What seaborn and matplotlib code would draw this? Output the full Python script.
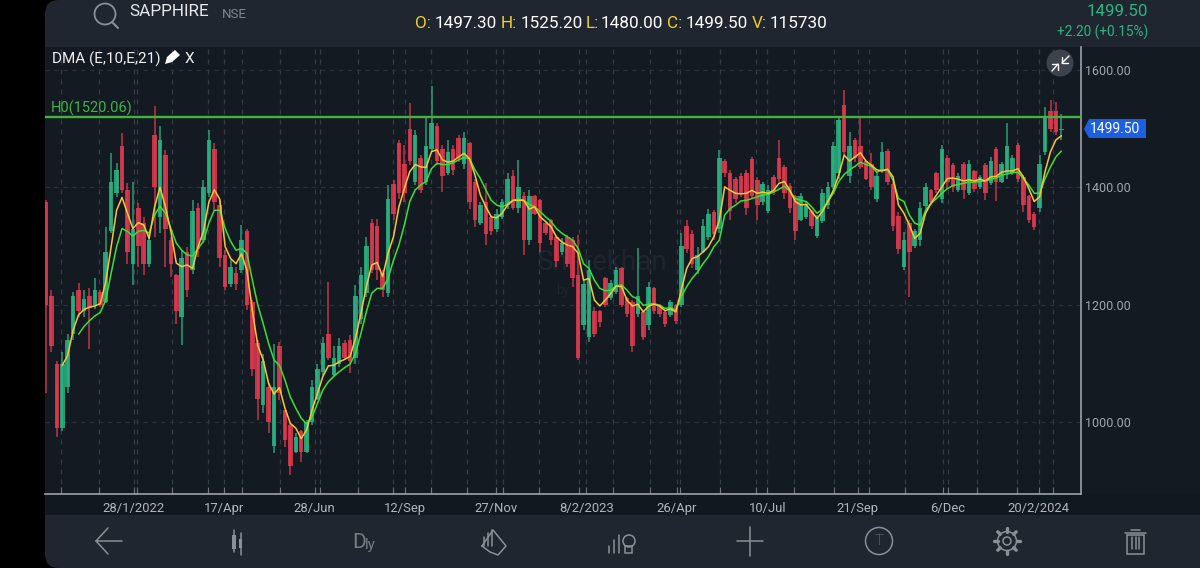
import numpy as np
import pandas as pd
import matplotlib.pyplot as plt
import seaborn as sns
from matplotlib.patches import FancyBboxPatch, Circle, Polygon, Rectangle

# Candles (one kept for every three sessions)
high = [1378,1225,1105,1120,1150,1222,1238,1225,1228,1245,
        1225,1333,1458,1441,1492,1407,1410,1373,1350,1320,
        1539,1505,1464,1315,1253,1293,1299,1379,1373,1413,
        1498,1475,1379,1293,1276,1265,1336,1330,1208,1140,
        1117,1066,1134,1137,1021,998,981,987,1004,1072,
        1100,1146,1239,1129,1143,1140,1148,1234,1265,1316,
        1347,1347,1259,1404,1413,1481,1472,1543,1498,1455,
        1518,1573,1509,1472,1481,1472,1489,1495,1478,1415,
        1375,1407,1353,1364,1381,1424,1430,1447,1392,1395,
        1387,1381,1342,1347,1319,1313,1319,1316,1319,1242,
        1276,1197,1191,1248,1242,1265,1265,1214,1208,1296,
        1191,1239,1231,1202,1191,1208,1202,1322,1344,1327,
        1299,1347,1364,1361,1464,1449,1429,1418,1424,1430,
        1452,1418,1410,1404,1421,1481,1438,1407,1387,1390,
        1375,1361,1353,1398,1410,1478,1520,1566,1495,1484,
        1518,1447,1458,1427,1478,1466,1410,1358,1324,1344,
        1330,1375,1407,1398,1427,1472,1455,1441,1424,1444,
        1447,1430,1421,1441,1452,1469,1444,1509,1455,1475,
        1421,1387,1358,1455,1537,1549,1545,1525.2]
low = [1050,1120,975,985,1050,1140,1180,1180,1125,1193,
       1197,1203,1322,1384,1390,1270,1233,1265,1250,1265,
       1315,1322,1265,1248,1168,1131,1214,1253,1282,1305,
       1384,1361,1265,1225,1231,1225,1254,1191,1078,1004,
       1015,981,947,1038,958,910,947,933,947,995,
       1038,1078,1106,1078,1094,1106,1083,1100,1168,1214,
       1254,1242,1214,1214,1344,1381,1375,1438,1404,1390,
       1404,1460,1438,1392,1421,1421,1444,1432,1364,1333,
       1336,1302,1319,1324,1347,1364,1361,1356,1285,1302,
       1353,1290,1319,1302,1265,1285,1265,1231,1106,1157,
       1137,1146,1163,1197,1208,1219,1197,1180,1120,1180,
       1140,1157,1185,1180,1163,1180,1168,1197,1288,1262,
       1253,1288,1310,1310,1322,1418,1344,1373,1384,1353,
       1381,1344,1370,1356,1387,1410,1381,1356,1310,1342,
       1347,1330,1313,1339,1364,1398,1415,1455,1407,1444,
       1432,1412,1395,1375,1424,1404,1325,1287,1259,1214,
       1296,1300,1364,1370,1390,1373,1398,1393,1393,1381,
       1387,1393,1398,1378,1404,1376,1407,1415,1421,1410,
       1358,1339,1327,1358,1455,1495,1489,1480]
open_ = [1375,1215,1100,990,1060,1150,1225,1190,1215,1200,
         1222,1205,1325,1390,1470,1395,1270,1365,1340,1270,
         1490,1350,1455,1310,1250,1180,1290,1260,1365,1310,
         1390,1465,1370,1285,1235,1255,1260,1325,1205,1135,
         1030,1060,960,1130,1020,995,950,985,950,1000,
         1040,1085,1150,1080,1100,1135,1140,1110,1175,1220,
         1340,1335,1255,1220,1405,1475,1440,1500,1410,1450,
         1410,1465,1505,1465,1425,1465,1485,1440,1475,1410,
         1340,1375,1350,1330,1350,1370,1420,1365,1385,1310,
         1385,1378,1340,1345,1315,1290,1315,1310,1250,1165,
         1145,1190,1190,1245,1212,1222,1262,1212,1205,1185,
         1188,1165,1228,1200,1188,1182,1200,1200,1335,1320,
         1260,1290,1315,1358,1330,1445,1425,1415,1420,1425,
         1448,1412,1375,1360,1418,1450,1435,1403,1385,1345,
         1350,1360,1318,1342,1370,1400,1425,1540,1420,1480,
         1470,1445,1440,1380,1430,1462,1405,1352,1265,1340,
         1300,1310,1368,1395,1425,1380,1450,1438,1396,1440,
         1390,1428,1400,1438,1408,1465,1410,1425,1425,1472,
         1418,1385,1355,1365,1460,1530,1530,1497.3]
close = [1200,1130,990,1100,1140,1215,1190,1210,1195,1225,
         1200,1290,1410,1430,1395,1290,1330,1300,1270,1310,
         1400,1480,1330,1270,1190,1280,1225,1360,1295,1400,
         1480,1375,1280,1230,1265,1235,1310,1200,1090,1040,
         1105,1000,1060,1050,970,925,975,950,1000,1060,
         1090,1135,1110,1110,1130,1110,1105,1215,1250,1300,
         1260,1260,1225,1380,1355,1390,1390,1445,1490,1395,
         1470,1510,1445,1420,1460,1430,1450,1485,1375,1345,
         1370,1320,1325,1355,1375,1415,1365,1400,1310,1385,
         1355,1305,1322,1310,1275,1305,1270,1245,1110,1235,
         1260,1150,1170,1200,1238,1260,1200,1185,1130,1215,
         1145,1230,1190,1185,1168,1205,1172,1300,1295,1270,
         1285,1335,1355,1320,1450,1425,1360,1380,1390,1365,
         1385,1370,1405,1395,1392,1415,1390,1365,1325,1385,
         1372,1335,1348,1390,1400,1470,1515,1460,1470,1450,
         1435,1415,1400,1420,1460,1410,1335,1295,1310,1290,
         1325,1365,1400,1375,1395,1465,1410,1400,1420,1395,
         1440,1398,1418,1390,1445,1410,1440,1470,1450,1415,
         1370,1345,1333,1440,1520,1500,1495,1499.5]

# The two moving averages, read per candle (they start a little later)
ema10 = [1097,1114,1157,1183,1192,1196,1198,1202,1239,1299,1361,1383,1356,1330,1340,1336,1313,
         1367,1400,1367,1325,1271,1265,1268,1262,1299,1325,1375,1396,1380,
         1299,1279,1270,1287,1259,1191,1131,1106,1066,1048,1059,1024,998,990,972,987,
         1021,1049,1078,1096,1097,1103,1107,1112,1143,1185,1231,1268,1272,1248,1288,1316,
         1367,1398,1427,1439,1435,1434,1461,1464,1447,1443,1445,1452,1458,1449,1421,1387,
         1367,1350,1348,1356,1370,1378,1378,1378,1363,1367,1350,1342,1333,1316,1307,1302,
         1299,1288,1242,1245,1208,1198,1208,1219,1232,1231,1208,1198,1201,1188,1198,1201,
         1198,1190,1193,1188,1225,1262,1279,1282,1290,1299,1316,1344,1401,1395,1390,1389,
         1390,1395,1390,1392,1390,1395,1407,1410,1395,1376,1370,1371,1359,1347,1359,1376,
         1395,1421,1455,1445,1452,1459,1445,1438,1430,1428,1431,1418,1370,1356,1336,1313,
         1322,1356,1373,1387,1401,1415,1416,1414,1411,1413,1411,1414,1411,1418,1419,1426,
         1428,1428,1432,1418,1398,1376,1384,1427,1461,1481,1488]
ema21 = [1150,1163,1173,1181,1187,1208,1254,1299,1330,1325,1317,1325,1327,1322,
         1353,1368,1356,1330,1305,1293,1285,1283,1296,1308,1339,1361,1361,
         1330,1308,1293,1296,1288,1242,1200,1168,1134,1106,1097,1072,1043,1024,1007,997,
         1009,1032,1055,1069,1078,1086,1093,1099,1117,1151,1188,1220,1228,1228,1245,1276,
         1302,1336,1376,1396,1404,1410,1432,1441,1439,1439,1442,1447,1451,1449,1430,1415,
         1396,1378,1370,1367,1371,1378,1380,1378,1371,1367,1359,1350,1342,1330,1322,1316,
         1310,1296,1270,1262,1242,1228,1224,1225,1232,1234,1225,1214,1210,1199,1201,1202,
         1199,1194,1195,1191,1214,1231,1245,1256,1270,1282,1299,1310,1353,1364,1370,1377,
         1378,1381,1384,1387,1388,1392,1397,1402,1393,1381,1378,1376,1367,1356,1363,1376,
         1390,1410,1422,1430,1436,1443,1439,1436,1426,1430,1430,1412,1381,1376,1353,1339,
         1336,1361,1373,1381,1390,1398,1403,1405,1407,1409,1409,1410,1411,1414,1416,1421,
         1423,1425,1426,1415,1404,1390,1390,1415,1435,1452,1462]

price_ticks = [1000, 1200, 1400, 1600]
date_labels = ["28/1/2022", "17/Apr", "28/Jun", "12/Sep", "27/Nov", "8/2/2023",
               "26/Apr", "10/Jul", "21/Sep", "6/Dec", "20/2/2024"]
label_bars = [49, 99, 149, 199, 249, 299, 349, 399, 449, 499, 549]
month_bars = [9, 30, 51, 70, 90, 109, 130, 152, 173, 192, 213, 233, 253, 273, 295,
              314, 334, 351, 373, 393, 414, 436, 455, 475, 496, 515, 537, 557]
h_line = 1520.06
last_price = 1499.50

BG = "#131a22"
PANEL = "#1f262f"
BAND = "#101820"
UP = "#2ab685"
DOWN = "#e23a50"
ICON = "#8b9096"
EMA_Y = "#f7c834"
EMA_G = "#3ddf37"

sns.set_theme(style="darkgrid")
plt.rcParams["font.family"] = ["Roboto", "DejaVu Sans"]

df = pd.DataFrame({"high": high, "low": low, "open": open_, "close": close})
df["bar"] = np.arange(len(df)) * 3 + 0.55
colors = np.where(df["close"] >= df["open"], UP, DOWN)

fig = plt.figure(figsize=(12, 5.68), dpi=100, facecolor="black")

# app chrome, drawn in pixel coords
back = fig.add_axes([0, 0, 1, 1], zorder=0)
back.set_xlim(0, 1200)
back.set_ylim(568, 0)
back.axis("off")
back.add_patch(FancyBboxPatch((45, 0), 1300, 568, boxstyle="round,pad=0,rounding_size=14",
                              fc=PANEL, ec="none"))
back.add_patch(Rectangle((45, 47), 1155, 447, fc=BG, ec="none"))
back.add_patch(Rectangle((45, 494), 1155, 21, fc=BAND, ec="none"))

ax = fig.add_axes([45 / 1200, 1 - 494 / 568, 1036 / 1200, 447 / 568], zorder=1)
ax.set_facecolor(BG)
ax.set_xlim(0, 572.4)
ax.set_ylim(877.7, 1639.2)

ax.text(0.5376, 0.519, "Sharekhan", transform=ax.transAxes, ha="center", va="center",
        fontsize=20, color="#1d252e", zorder=0.5)
ax.text(0.50, 0.455, "by", transform=ax.transAxes, ha="center", va="center",
        fontsize=9, color="#1d252e", zorder=0.5)

# candles
ax.vlines(df["bar"], df["low"], df["high"], colors=colors, lw=1.1, alpha=0.85, zorder=2)
ax.bar(df["bar"], (df["close"] - df["open"]).abs(), bottom=df[["open", "close"]].min(axis=1),
       width=2.5, color=colors, linewidth=0, alpha=0.85, zorder=2.2)

ema10_df = pd.DataFrame({"bar": df["bar"].values[-len(ema10):], "value": ema10})
ema21_df = pd.DataFrame({"bar": df["bar"].values[-len(ema21):], "value": ema21})
sns.lineplot(data=ema21_df, x="bar", y="value", color=EMA_G, lw=1.1, ax=ax, zorder=3)
sns.lineplot(data=ema10_df, x="bar", y="value", color=EMA_Y, lw=1.1, ax=ax, zorder=3.1)

ax.axhline(h_line, color="#43b23f", lw=1.7, zorder=3.5)
ax.text(3, h_line + 2, "H0(1520.06)", color="#3fb548", fontsize=10.5, va="bottom", ha="left")

ax.set_xticks(label_bars, date_labels)
ax.set_xticks(month_bars, minor=True)
ax.set_yticks(price_ticks, [f"{p:.2f}" for p in price_ticks])
ax.yaxis.tick_right()
ax.set_xlabel("")
ax.set_ylabel("")
ax.grid(True, which="both", axis="x", color="#333a43", ls=(0, (4, 4)), lw=0.9)
ax.grid(True, which="major", axis="y", color="#2a3038", ls=(0, (4, 4)), lw=0.8)
ax.set_axisbelow(True)
ax.tick_params(axis="x", which="both", direction="in", length=5, width=0.8, color="#6f747a",
               labelcolor="#b4b7bb", labelsize=9.4, pad=6, bottom=True)
ax.tick_params(axis="y", length=0, labelcolor="#a3a6aa", labelsize=9, pad=3, right=False)
for side in ["top", "left"]:
    ax.spines[side].set_visible(False)
for side in ["right", "bottom"]:
    ax.spines[side].set_visible(True)
    ax.spines[side].set_color("#9ea2a7")
    ax.spines[side].set_linewidth(1.2)

# overlay: header, price tag, toolbar icons
ui = fig.add_axes([0, 0, 1, 1], zorder=2)
ui.set_xlim(0, 1200)
ui.set_ylim(568, 0)
ui.axis("off")
ui.patch.set_alpha(0)

ui.add_patch(Circle((105, 14), 10.5, fc="none", ec=ICON, lw=1.3))
ui.plot([112, 118], [22, 28], color=ICON, lw=1.5)
ui.text(129, 12, "SAPPHIRE", color="#e6e8ea", fontsize=12.3, va="center")
ui.text(222, 14, "NSE", color="#7f858c", fontsize=9.5, va="center")

ohlcv = [(415, "O:", "#f2d02e"), (435, "1497.30", "white"), (501, "H:", "#f2d02e"),
         (521, "1525.20", "white"), (586, "L:", "#f2d02e"), (601, "1480.00", "white"),
         (667, "C:", "#f2d02e"), (686, "1499.50", "white"), (752, "V:", "#f2d02e"),
         (770, "115730", "white")]
for x, s, c in ohlcv:
    ui.text(x, 24, s, color=c, fontsize=12.3, va="center")

ui.text(1148, 12, "1499.50", color="#2cb582", fontsize=12.2, va="center", ha="right")
ui.text(1148, 32, "+2.20 (+0.15%)", color="#2cb582", fontsize=9.8, va="center", ha="right")

ui.text(52, 59, "DMA (E,10,E,21)", color="#eef0f2", fontsize=11, va="center")
ui.add_patch(Polygon([[165, 64], [167, 57], [175, 50], [180, 55], [172, 62]], fc="white", ec="none"))
ui.text(185, 59, "X", color="#eef0f2", fontsize=11, va="center")

# shrink button
ui.add_patch(Circle((1060, 63), 13.5, fc="#3c434c", ec="none"))
for a, b, c in [((1069, 56), (1062, 63), [(1062, 57), (1062, 63), (1068, 63)]),
                ((1052, 71), (1058, 64), [(1052, 64), (1058, 64), (1058, 70)])]:
    ui.plot([a[0], b[0]], [a[1], b[1]], color="white", lw=1)
    ui.plot([p[0] for p in c], [p[1] for p in c], color="white", lw=1)

# last price tag
ui.add_patch(Polygon([[1084, 129], [1089, 119], [1146, 119], [1146, 138], [1089, 138]],
                     fc="#1c5fe0", ec="none"))
ui.text(1089.5, 129, f"{last_price:.2f}", color="white", fontsize=10, va="center")

# toolbar
ic = dict(color=ICON, lw=1.1)
ui.plot([122, 96, 108], [541, 541, 528], **ic)
ui.plot([96, 108], [541, 554], **ic)
ui.add_patch(Rectangle((232, 535), 4, 14, fc=ICON, ec="none"))
ui.plot([234, 234], [530, 552], **ic)
ui.add_patch(Rectangle((239, 539), 3, 9, fc=ICON, ec="none"))
ui.plot([240.5, 240.5], [533, 555], **ic)
ui.text(352, 542, "D", color="#777c82", fontsize=15, va="center")
ui.text(365, 545, "ly", color="#777c82", fontsize=11, va="center")
ui.plot([482, 490, 498, 506, 493, 482], [546, 552, 555, 546, 530, 546], **ic)
for x, y0 in [(484, 537), (488, 533), (492, 530)]:
    ui.plot([x, x], [y0, 546], **ic)
for x, y0 in [(609, 546), (614, 540), (619, 535)]:
    ui.plot([x, x], [y0, 553], **ic)
ui.add_patch(Circle((629, 541), 6, fc="none", ec=ICON, lw=1.1))
ui.add_patch(Rectangle((625, 546), 7, 7, fc="none", ec=ICON, lw=1.1))
ui.plot([737, 763], [541, 541], **ic)
ui.plot([750, 750], [527, 556], **ic)
ui.add_patch(Circle((879, 541), 13.5, fc="none", ec=ICON, lw=1.1))
ui.text(879, 541, "T", color=ICON, fontsize=11, ha="center", va="center", fontweight="light")
ui.add_patch(Circle((1007, 541), 4, fc="none", ec=ICON, lw=1.1))
ui.add_patch(Circle((1007, 541), 9.5, fc="none", ec=ICON, lw=1.1))
for ang in np.arange(0, 360, 45):
    ca, sa = np.cos(np.radians(ang)), np.sin(np.radians(ang))
    ui.plot([1007 + 9.5 * ca, 1007 + 13 * ca], [541 + 9.5 * sa, 541 + 13 * sa], color=ICON, lw=2.4)
ui.plot([1125, 1146], [533, 533], **ic)
ui.plot([1131, 1140], [530, 530], **ic)
ui.add_patch(Rectangle((1127, 535), 17, 19, fc="none", ec=ICON, lw=1.1))
for x in [1132, 1135.5, 1139]:
    ui.plot([x, x], [537, 549], **ic)

fig.savefig("out.png", dpi=100, facecolor="black")
